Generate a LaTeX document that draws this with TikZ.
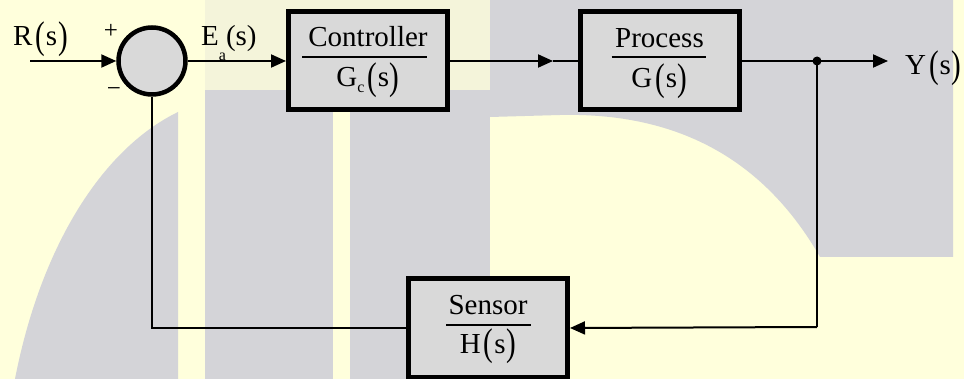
\documentclass[tikz,border=0pt]{standalone}
\usepackage{fontspec}
\setmainfont{Liberation Serif}
\usepackage{graphicx}
\usetikzlibrary{arrows.meta}
\definecolor{bgy}{RGB}{255,255,220}
\definecolor{bgg}{RGB}{212,212,216}
\definecolor{boxg}{RGB}{217,217,217}
\newcommand\Lpar{\raisebox{-0.08em}{\scalebox{1}[1.33]{(}}}
\newcommand\Rpar{\raisebox{-0.08em}{\scalebox{1}[1.33]{)}}}
\newcommand\tallp[1]{\kern3pt\Lpar\kern0.8pt#1\kern0.8pt\Rpar}
\newcommand\lowsub[2]{\raisebox{-#2}{\fontsize{16}{16}\selectfont #1}}
\begin{document}
\begin{tikzpicture}[x=1pt,y=-1pt,
  txt/.style={font=\fontsize{29}{31}\selectfont, inner sep=0pt},
  sgn/.style={font=\fontsize{25}{27}\selectfont, inner sep=0pt},
  blk/.style={draw, line width=5pt, fill=boxg, minimum width=159pt, minimum height=98pt, inner sep=0pt},
  sumc/.style={circle, draw, line width=4.5pt, fill=boxg, minimum size=67pt, inner sep=0pt},
  sig/.style={line width=2pt},
  arr/.style={sig, -{Triangle[length=15pt,width=13pt]}},
  fbar/.style={line width=2pt}]
\fill[bgy] (0,0) rectangle (964,379);
\useasboundingbox (0,0) rectangle (964,379);
% watermark-like background
\fill[bgg] (15,379) .. controls (40,250) and (100,150) .. (178,112) -- (178,379) -- cycle;
\fill[bgg] (205,90) rectangle (333,379);
\fill[bgg] (350,90) rectangle (490,379);
\fill[bgg, opacity=0.25] (205,0) rectangle (490,90);
\fill[bgg] (490,0) -- (953,0) -- (953,257) -- (820,257)
  .. controls (770,170) and (690,112) .. (560,115) -- (490,117) -- cycle;
% blocks
\node[sumc] (sum) at (152,61) {};
\node[blk] (ctrl) at (368,61) {};
\node[blk] (proc) at (659.5,61) {};
\node[blk] (sens) at (488,328) {};
% block texts
\node[txt, anchor=base] (ctrlt) at ([yshift=14pt]ctrl.center) {Controller};
\node[txt, anchor=base] (ctrlb) at ([yshift=-26pt]ctrl.center) {G\lowsub{c}{6pt}\tallp{s}};
\draw[fbar] ([xshift=-66pt,yshift=3.5pt]ctrl.center) -- ([xshift=59pt,yshift=3.5pt]ctrl.center);
\node[txt, anchor=base] (proct) at ([yshift=13pt]proc.center) {Process};
\node[txt, anchor=base] (procb) at ([yshift=-27pt]proc.center) {G\tallp{s}};
\draw[fbar] ([xshift=-48pt,yshift=3.5pt]proc.center) -- ([xshift=46pt,yshift=3.5pt]proc.center);
\node[txt, anchor=base] (senst) at ([yshift=13pt]sens.center) {Sensor};
\node[txt, anchor=base] (sensb) at ([yshift=-25pt]sens.center) {H\tallp{s}};
\draw[fbar] ([xshift=-42pt,yshift=3pt]sens.center) -- ([xshift=43pt,yshift=3pt]sens.center);
% signal labels
\node[txt, anchor=base west] (rlab) at (13,46) {R\tallp{s}};
\node[sgn] (plus) at (111,31) {+};
\node[sgn] (minus) at (114,92) {−};
\node[txt, anchor=base west] (elab) at (201,46) {E\lowsub{a}{15pt}(s)};
\node[txt, anchor=base west] (ylab) at (905,75) {Y\tallp{s}};
% connectors
\coordinate (rin) at (30,61);
\coordinate (mid) at (553,61);
\coordinate (yend) at (888,61);
\coordinate (tap) at (817,61);
\coordinate (fbc) at (817,327);
\draw[arr] (rin) -- (sum.west);
\draw[arr] (sum.east) -- (ctrl.west);
\draw[arr] (ctrl.east) -- (mid);
\draw[sig] (mid) -- (proc.west);
\draw[arr] (proc.east) -- (yend);
\fill (tap) circle (4.5pt);
\draw[sig] (tap) -- (fbc);
\draw[arr] (fbc) -- (sens.east);
\draw[sig] (sens.west) -| (sum.south);
\end{tikzpicture}
\end{document}
